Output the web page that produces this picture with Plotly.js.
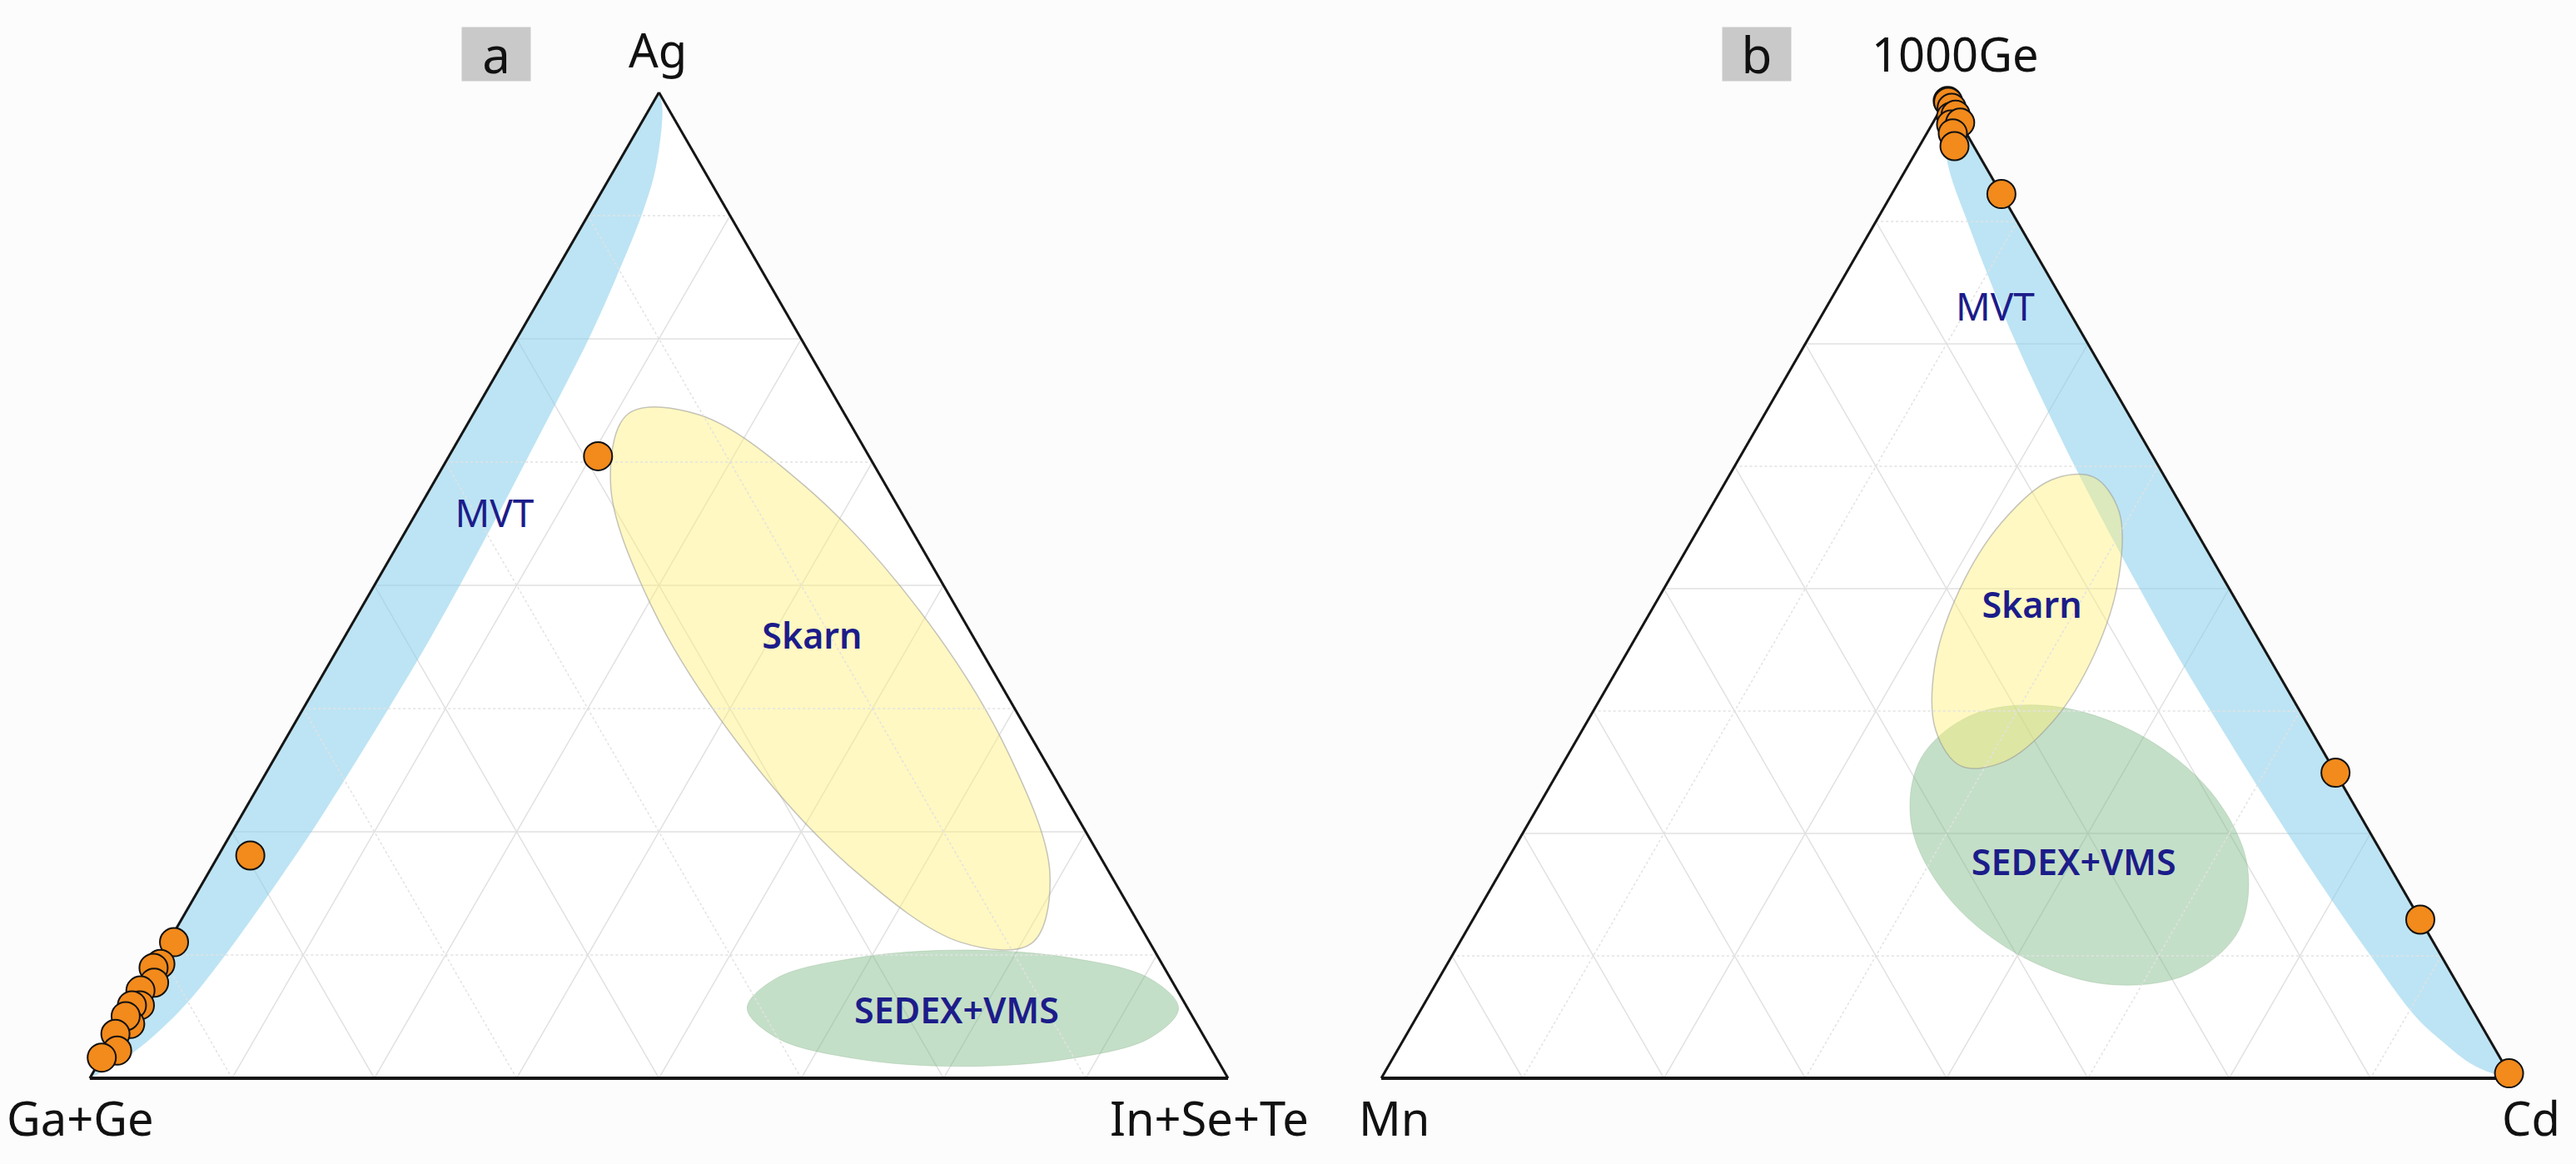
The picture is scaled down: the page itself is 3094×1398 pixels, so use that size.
<!DOCTYPE html>
<html>
<head>
<meta charset="utf-8">
<script src="https://cdn.plot.ly/plotly-3.0.1.min.js"></script>
<style>
html, body { margin: 0; padding: 0; background: #fcfcfc; }
#chart { width: 3094px; height: 1398px; }
</style>
</head>
<body>
<div id="chart"></div>
<script>
// ---------------- Panel a : Ag (top) – Ga+Ge (left) – In+Se+Te (right) ----------------
const panelA_corners = ['Ag', 'Ga+Ge', 'In+Se+Te'];

const samplesA_Ag     = [0.631, 0.226, 0.138, 0.116, 0.112, 0.097, 0.089, 0.074, 0.074, 0.055, 0.063, 0.045, 0.028, 0.021];
const samplesA_GaGe   = [0.238, 0.746, 0.857, 0.880, 0.888, 0.895, 0.911, 0.919, 0.926, 0.937, 0.937, 0.955, 0.962, 0.979];
const samplesA_InSeTe = [0.131, 0.028, 0.005, 0.004, 0.000, 0.008, 0.000, 0.007, 0.000, 0.008, 0.000, 0.000, 0.010, 0.000];

// MVT field (band along the Ag – Ga+Ge side)
const mvtA_Ag     = [1.000, 0.984, 0.925, 0.881, 0.815, 0.754, 0.688, 0.629, 0.566, 0.503, 0.439, 0.378, 0.317, 0.253, 0.207, 0.159, 0.128, 0.083, 0.055, 0.032, 0.015, 0.004, 0.000];
const mvtA_GaGe   = [0.000, 0.005, 0.040, 0.073, 0.129, 0.183, 0.245, 0.301, 0.361, 0.422, 0.485, 0.547, 0.610, 0.677, 0.727, 0.780, 0.815, 0.868, 0.905, 0.939, 0.968, 0.991, 1.000];
const mvtA_InSeTe = [0.000, 0.011, 0.035, 0.046, 0.056, 0.063, 0.067, 0.070, 0.073, 0.075, 0.076, 0.075, 0.073, 0.070, 0.066, 0.061, 0.057, 0.049, 0.040, 0.029, 0.017, 0.005, 0.000];

// Skarn field
const skarnA_Ag     = [0.137, 0.138, 0.211, 0.336, 0.480, 0.603, 0.674, 0.673, 0.600, 0.475, 0.331, 0.207, 0.137];
const skarnA_GaGe   = [0.104, 0.166, 0.223, 0.260, 0.267, 0.241, 0.190, 0.128, 0.071, 0.034, 0.028, 0.053, 0.104];
const skarnA_InSeTe = [0.759, 0.696, 0.566, 0.404, 0.253, 0.156, 0.136, 0.199, 0.329, 0.491, 0.641, 0.740, 0.759];

// SEDEX+VMS field
const sedexA_Ag     = [0.071, 0.041, 0.020, 0.012, 0.020, 0.041, 0.071, 0.101, 0.122, 0.130, 0.122, 0.101, 0.071];
const sedexA_GaGe   = [0.008, 0.048, 0.128, 0.227, 0.318, 0.376, 0.387, 0.347, 0.266, 0.168, 0.077, 0.018, 0.008];
const sedexA_InSeTe = [0.921, 0.911, 0.852, 0.761, 0.662, 0.583, 0.542, 0.552, 0.612, 0.702, 0.801, 0.881, 0.921];

const fieldLabelsA        = ['MVT', 'Skarn', 'SEDEX+VMS'];
const fieldLabelsA_Ag     = [0.569, 0.445, 0.065];
const fieldLabelsA_GaGe   = [0.360, 0.143, 0.206];
const fieldLabelsA_InSeTe = [0.071, 0.412, 0.729];

// ---------------- Panel b : 1000Ge (top) – Mn (left) – Cd (right) ----------------
const panelB_corners = ['1000Ge', 'Mn', 'Cd'];

const samplesB_Ge = [0.998, 0.997, 0.991, 0.982, 0.984, 0.974, 0.976, 0.965, 0.952, 0.903, 0.312, 0.162, 0.005];
const samplesB_Mn = [0.000, 0.000, 0.000, 0.005, 0.000, 0.009, 0.000, 0.012, 0.017, 0.000, 0.000, 0.000, 0.000];
const samplesB_Cd = [0.002, 0.003, 0.009, 0.013, 0.016, 0.017, 0.024, 0.023, 0.031, 0.097, 0.688, 0.838, 0.995];

// MVT field (band along the 1000Ge – Cd side)
const mvtB_Ge = [1.000, 0.940, 0.870, 0.760, 0.680, 0.610, 0.510, 0.430, 0.350, 0.280, 0.200, 0.130, 0.064, 0.038, 0.015, 0.005, 0.000];
const mvtB_Mn = [0.000, 0.030, 0.045, 0.062, 0.070, 0.075, 0.079, 0.080, 0.078, 0.075, 0.070, 0.063, 0.054, 0.043, 0.029, 0.015, 0.000];
const mvtB_Cd = [0.000, 0.030, 0.085, 0.178, 0.250, 0.315, 0.411, 0.490, 0.572, 0.645, 0.730, 0.807, 0.882, 0.919, 0.956, 0.980, 1.000];

// Skarn field
const skarnB_Ge = [0.614, 0.579, 0.513, 0.435, 0.365, 0.323, 0.319, 0.355, 0.421, 0.499, 0.568, 0.611, 0.614];
const skarnB_Mn = [0.063, 0.058, 0.091, 0.151, 0.223, 0.288, 0.328, 0.332, 0.300, 0.239, 0.167, 0.102, 0.063];
const skarnB_Cd = [0.323, 0.363, 0.396, 0.414, 0.412, 0.389, 0.353, 0.313, 0.279, 0.262, 0.265, 0.287, 0.323];

// SEDEX+VMS field
const sedexB_Ge = [0.150, 0.106, 0.096, 0.125, 0.184, 0.258, 0.326, 0.371, 0.380, 0.351, 0.292, 0.219, 0.150];
const sedexB_Mn = [0.167, 0.234, 0.310, 0.372, 0.406, 0.402, 0.360, 0.292, 0.217, 0.154, 0.120, 0.125, 0.167];
const sedexB_Cd = [0.683, 0.660, 0.594, 0.503, 0.410, 0.340, 0.314, 0.337, 0.403, 0.495, 0.588, 0.657, 0.683];

const fieldLabelsB    = ['MVT', 'Skarn', 'SEDEX+VMS'];
const fieldLabelsB_Ge = [0.784, 0.479, 0.217];
const fieldLabelsB_Mn = [0.065, 0.185, 0.279];
const fieldLabelsB_Cd = [0.151, 0.336, 0.504];

const panelTags = ['a', 'b'];

// ---------------- styling ----------------
const FONT = 'Noto Sans, Open Sans, DejaVu Sans, sans-serif';
const FIELD_TEXT = '#1c1c8a';
const MVT_FILL = 'rgba(135,206,235,0.55)';
const SKARN_FILL = 'rgba(255,240,120,0.45)';
const SEDEX_FILL = 'rgba(124,185,132,0.45)';
const SAMPLE_COLOR = '#f28a1c';

function field(sub, a, b, c, fill, lineColor, lineWidth) {
  return {
    type: 'scatterternary', subplot: sub, mode: 'lines',
    a: a, b: b, c: c,
    fill: 'toself', fillcolor: fill,
    line: { shape: 'spline', smoothing: 1, color: lineColor, width: lineWidth },
    hoverinfo: 'skip', showlegend: false
  };
}
function labels(sub, txt, a, b, c) {
  return {
    type: 'scatterternary', subplot: sub, mode: 'text',
    a: a, b: b, c: c, text: txt,
    textposition: 'middle center', cliponaxis: false,
    textfont: { family: FONT, size: [46, 43, 43], weight: [400, 600, 600], color: FIELD_TEXT },
    hoverinfo: 'skip', showlegend: false
  };
}
function samples(sub, a, b, c) {
  return {
    type: 'scatterternary', subplot: sub, mode: 'markers',
    a: a, b: b, c: c, cliponaxis: false,
    marker: { size: 34, color: SAMPLE_COLOR, line: { color: '#111111', width: 2 } },
    hoverinfo: 'skip', showlegend: false
  };
}

const data = [
  // panel a
  field('ternary', mvtA_Ag, mvtA_GaGe, mvtA_InSeTe, MVT_FILL, 'rgba(0,0,0,0)', 0),
  field('ternary', skarnA_Ag, skarnA_GaGe, skarnA_InSeTe, SKARN_FILL, 'rgba(150,150,150,0.55)', 1.5),
  field('ternary', sedexA_Ag, sedexA_GaGe, sedexA_InSeTe, SEDEX_FILL, 'rgba(140,180,140,0.35)', 1),
  labels('ternary2', fieldLabelsA, fieldLabelsA_Ag, fieldLabelsA_GaGe, fieldLabelsA_InSeTe),
  samples('ternary2', samplesA_Ag, samplesA_GaGe, samplesA_InSeTe),
  // panel b
  field('ternary3', mvtB_Ge, mvtB_Mn, mvtB_Cd, MVT_FILL, 'rgba(0,0,0,0)', 0),
  field('ternary3', sedexB_Ge, sedexB_Mn, sedexB_Cd, SEDEX_FILL, 'rgba(140,180,140,0.35)', 1),
  field('ternary3', skarnB_Ge, skarnB_Mn, skarnB_Cd, SKARN_FILL, 'rgba(150,150,150,0.55)', 1.5),
  labels('ternary4', fieldLabelsB, fieldLabelsB_Ge, fieldLabelsB_Mn, fieldLabelsB_Cd),
  samples('ternary4', samplesB_Ge, samplesB_Mn, samplesB_Cd)
];

function solidAxis(dtick) {
  return {
    title: { text: '' }, showticklabels: false, ticks: '', showline: false,
    showgrid: true, tick0: 0, dtick: dtick, gridcolor: '#e1e1e1', gridwidth: 1.5
  };
}
function overAxis(dotted, lw) {
  return {
    title: { text: '' }, showticklabels: false, ticks: '',
    showline: true, linecolor: '#151515', linewidth: lw, layer: 'below traces',
    showgrid: dotted, tick0: 0.125, dtick: 0.25,
    gridcolor: '#e2e2e2', gridwidth: 1.5, griddash: 'dot'
  };
}

const domA = { x: [0.0208, 0.4908], y: [0.07368, 0.92060] };
const domB = { x: [0.52066, 0.99066], y: [0.07368, 0.91488] };

function corner(text, x, y) {
  return { xref: 'paper', yref: 'paper', x: x, y: y, xanchor: 'center', yanchor: 'middle',
           text: text, showarrow: false, font: { family: FONT, size: 56, color: '#111111' } };
}
function tag(text, x, y) {
  return { xref: 'paper', yref: 'paper', x: x, y: y, xanchor: 'center', yanchor: 'middle',
           text: text, showarrow: false, bgcolor: '#c9c9c9', borderpad: 0,
           width: 82, height: 64, font: { family: FONT, size: 60, color: '#111111' } };
}

const layout = {
  width: 3094, height: 1398, autosize: false,
  margin: { l: 0, r: 0, t: 0, b: 0 },
  paper_bgcolor: '#fcfcfc',
  showlegend: false, hovermode: false, dragmode: false,
  ternary: { domain: domA, bgcolor: '#ffffff', sum: 1,
             aaxis: solidAxis(0.25), baxis: solidAxis(0.25), caxis: solidAxis(0.125) },
  ternary2: { domain: domA, bgcolor: 'rgba(0,0,0,0)', sum: 1,
              aaxis: overAxis(true, 3), baxis: overAxis(true, 4), caxis: overAxis(false, 3) },
  ternary3: { domain: domB, bgcolor: '#ffffff', sum: 1,
              aaxis: solidAxis(0.25), baxis: solidAxis(0.125), caxis: solidAxis(0.25) },
  ternary4: { domain: domB, bgcolor: 'rgba(0,0,0,0)', sum: 1,
              aaxis: overAxis(true, 3), baxis: overAxis(false, 4), caxis: overAxis(true, 3) },
  annotations: [
    corner(panelA_corners[0], 0.25533, 0.9578),
    corner(panelA_corners[1], 0.03103, 0.0401),
    corner(panelA_corners[2], 0.46930, 0.0401),
    corner(panelB_corners[0], 0.75889, 0.9542),
    corner(panelB_corners[1], 0.54137, 0.0401),
    corner(panelB_corners[2], 0.98255, 0.0401),
    tag(panelTags[0], 0.19263, 0.9535),
    tag(panelTags[1], 0.68197, 0.9532)
  ]
};

Plotly.newPlot('chart', data, layout, { staticPlot: true, displayModeBar: false });
</script>
</body>
</html>
